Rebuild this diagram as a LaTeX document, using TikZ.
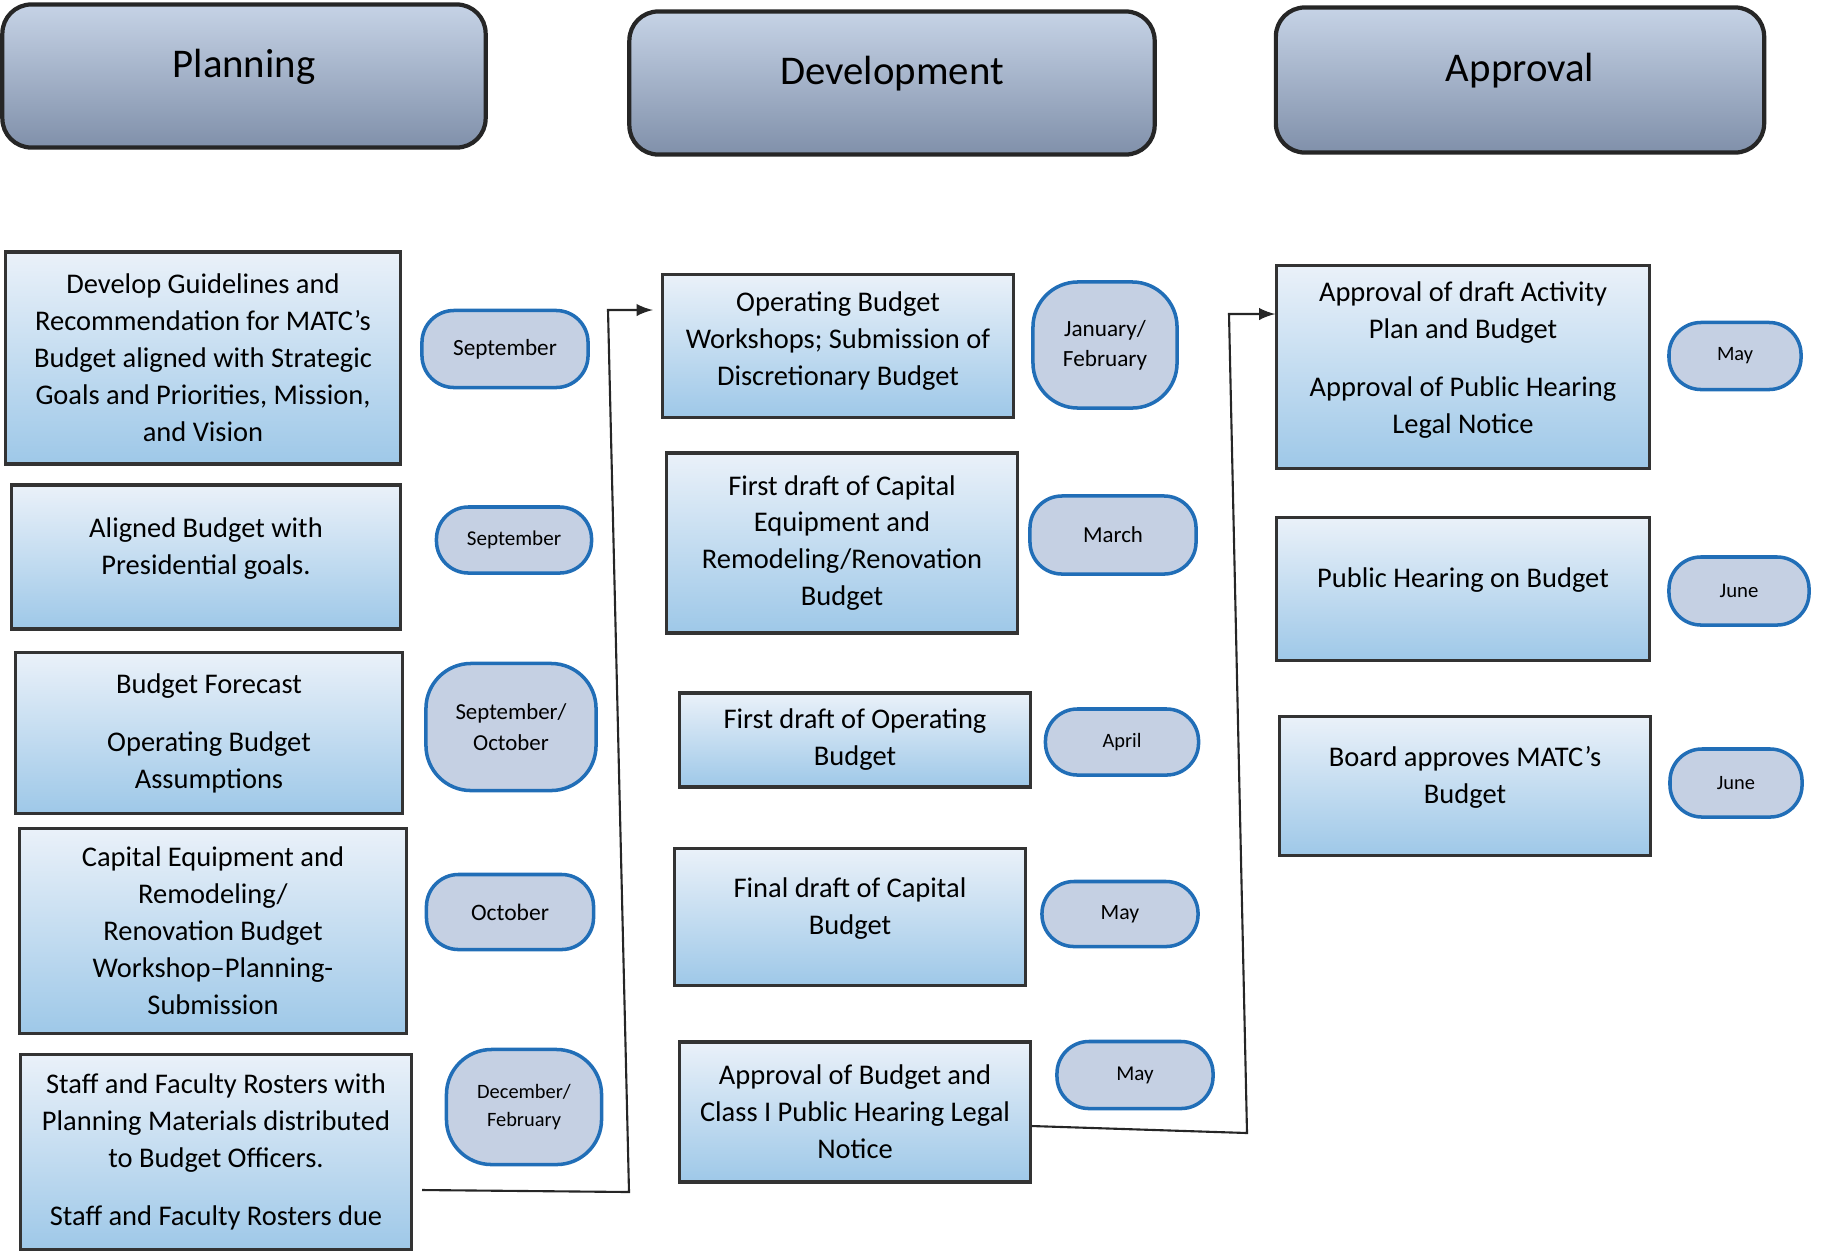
\documentclass[tikz,border=0pt]{standalone}
\usepackage{fontspec}
\setmainfont{Carlito}
\definecolor{phasetop}{RGB}{198,211,230}
\definecolor{phasebot}{RGB}{128,144,170}
\definecolor{tasktop}{RGB}{234,241,249}
\definecolor{taskbot}{RGB}{158,200,232}
\definecolor{monthfill}{RGB}{197,208,227}
\definecolor{monthline}{RGB}{33,110,183}
\begin{document}
\begin{tikzpicture}[x=0.01cm,y=-0.01cm,
    sz/.style 2 args={minimum width=#1*0.1mm,minimum height=#2*0.1mm},
    lift/.style={text depth=#1},
    phase/.style={draw=black!85,line width=1.2pt,rounded corners=2.9mm,top color=phasetop,bottom color=phasebot,inner sep=0pt,text depth=2.5mm,font=\fontsize{11.6}{14}\selectfont},
    task/.style={draw=black!80,line width=0.9pt,top color=tasktop,bottom color=taskbot,inner sep=0pt,align=center,font=\fontsize{8.1}{10.5}\selectfont},
    month/.style={draw=monthline,line width=1pt,fill=monthfill,rounded corners=3.2mm,inner sep=0pt,align=center,font=\fontsize{6}{8.5}\selectfont},
    link/.style={line width=0.6pt,black!85}]
	\useasboundingbox (0,0) rectangle (1822,1251);
	% phases
	\node[phase,sz={483}{143}] (hPlan) at (244,76) {Planning};
	\node[phase,sz={525}{143}] (hDev) at (892,83) {Development};
	\node[phase,sz={488}{145}] (hApp) at (1520,80) {Approval};
	% planning
	\node[task,sz={395}{212}] (plan1) at (203,358) {Develop Guidelines and\\Recommendation for MATC’s\\Budget aligned with Strategic\\Goals and Priorities, Mission,\\and Vision};
	\node[task,sz={388}{144},lift=2.2mm] (plan2) at (206,557) {Aligned Budget with\\Presidential goals.};
	\node[task,sz={386}{161}] (plan3) at (209,733) {Budget Forecast\\[6pt]Operating Budget\\Assumptions};
	\node[task,sz={386}{205}] (plan4) at (213,931) {Capital Equipment and\\Remodeling/\\Renovation Budget\\Workshop–Planning-\\Submission};
	\node[task,sz={391}{195}] (plan5) at (216,1152) {Staff and Faculty Rosters with\\Planning Materials distributed\\to Budget Officers.\\[6pt]Staff and Faculty Rosters due};
	\node[month,sz={166}{77},font=\fontsize{6.6}{8.5}\selectfont] (pm1) at (505,349) {September};
	\node[month,sz={155}{66}] (pm2) at (514,540) {September};
	\node[month,sz={170}{127},rounded corners=4.5mm,font=\fontsize{6.5}{8.8}\selectfont] (pm3) at (511,727) {September/\\October};
	\node[month,sz={167}{75},font=\fontsize{6.7}{8.5}\selectfont] (pm4) at (510,912) {October};
	\node[month,sz={155}{115},rounded corners=4.5mm,font=\fontsize{5.8}{7.8}\selectfont] (pm5) at (524,1107) {December/\\February};
	% development
	\node[task,sz={351}{143},lift=1.5mm] (dev1) at (838,346) {Operating Budget\\Workshops; Submission of\\Discretionary Budget};
	\node[task,sz={351}{180}] (dev2) at (842,543) {First draft of Capital\\Equipment and\\Remodeling/Renovation\\Budget};
	\node[task,sz={350}{94}] (dev3) at (855,740) {First draft of Operating\\Budget};
	\node[task,sz={351}{137},lift=2.2mm] (dev4) at (850,917) {Final draft of Capital\\Budget};
	\node[task,sz={350}{140}] (dev5) at (855,1112) {Approval of Budget and\\Class I Public Hearing Legal\\Notice};
	\node[month,sz={144}{126},rounded corners=4.5mm,font=\fontsize{6.6}{8.6}\selectfont] (dm1) at (1105,345) {January/\\February};
	\node[month,sz={166}{78},font=\fontsize{6.5}{8.5}\selectfont] (dm2) at (1113,535) {March};
	\node[month,sz={153}{66},font=\fontsize{5.8}{8}\selectfont] (dm3) at (1122,742) {April};
	\node[month,sz={156}{65},font=\fontsize{6.2}{8}\selectfont] (dm4) at (1120,914) {May};
	\node[month,sz={156}{67}] (dm5) at (1135,1075) {May};
	% approval
	\node[task,sz={372}{203},lift=1.8mm] (app1) at (1463,367) {Approval of draft Activity\\Plan and Budget\\[6pt]Approval of Public Hearing\\Legal Notice};
	\node[task,sz={372}{143},lift=2.2mm] (app2) at (1463,589) {Public Hearing on Budget};
	\node[task,sz={371}{139},lift=2.2mm] (app3) at (1465,786) {Board approves MATC’s\\Budget};
	\node[month,sz={132}{67},font=\fontsize{5.8}{8}\selectfont] (am1) at (1735,356) {May};
	\node[month,sz={140}{68},font=\fontsize{5.9}{8}\selectfont] (am2) at (1739,591) {June};
	\node[month,sz={132}{68},font=\fontsize{5.8}{8}\selectfont] (am3) at (1736,783) {June};
	% connectors
	\coordinate (ls) at (422,1190);
	\coordinate (lb) at (629,1192);
	\coordinate (lt) at (608,310);
	\coordinate (rb) at (1247,1133);
	\coordinate (rt) at (1229,314);
	\draw[link,-latex,shorten >=0.8mm] (ls) -- (lb) -- (lt) -- (dev1.west |- lt);
	\draw[link,-latex] ([yshift=-1.4mm]dev5.east) -- (rb) -- (rt) -- (app1.west |- rt);
\end{tikzpicture}
\end{document}
